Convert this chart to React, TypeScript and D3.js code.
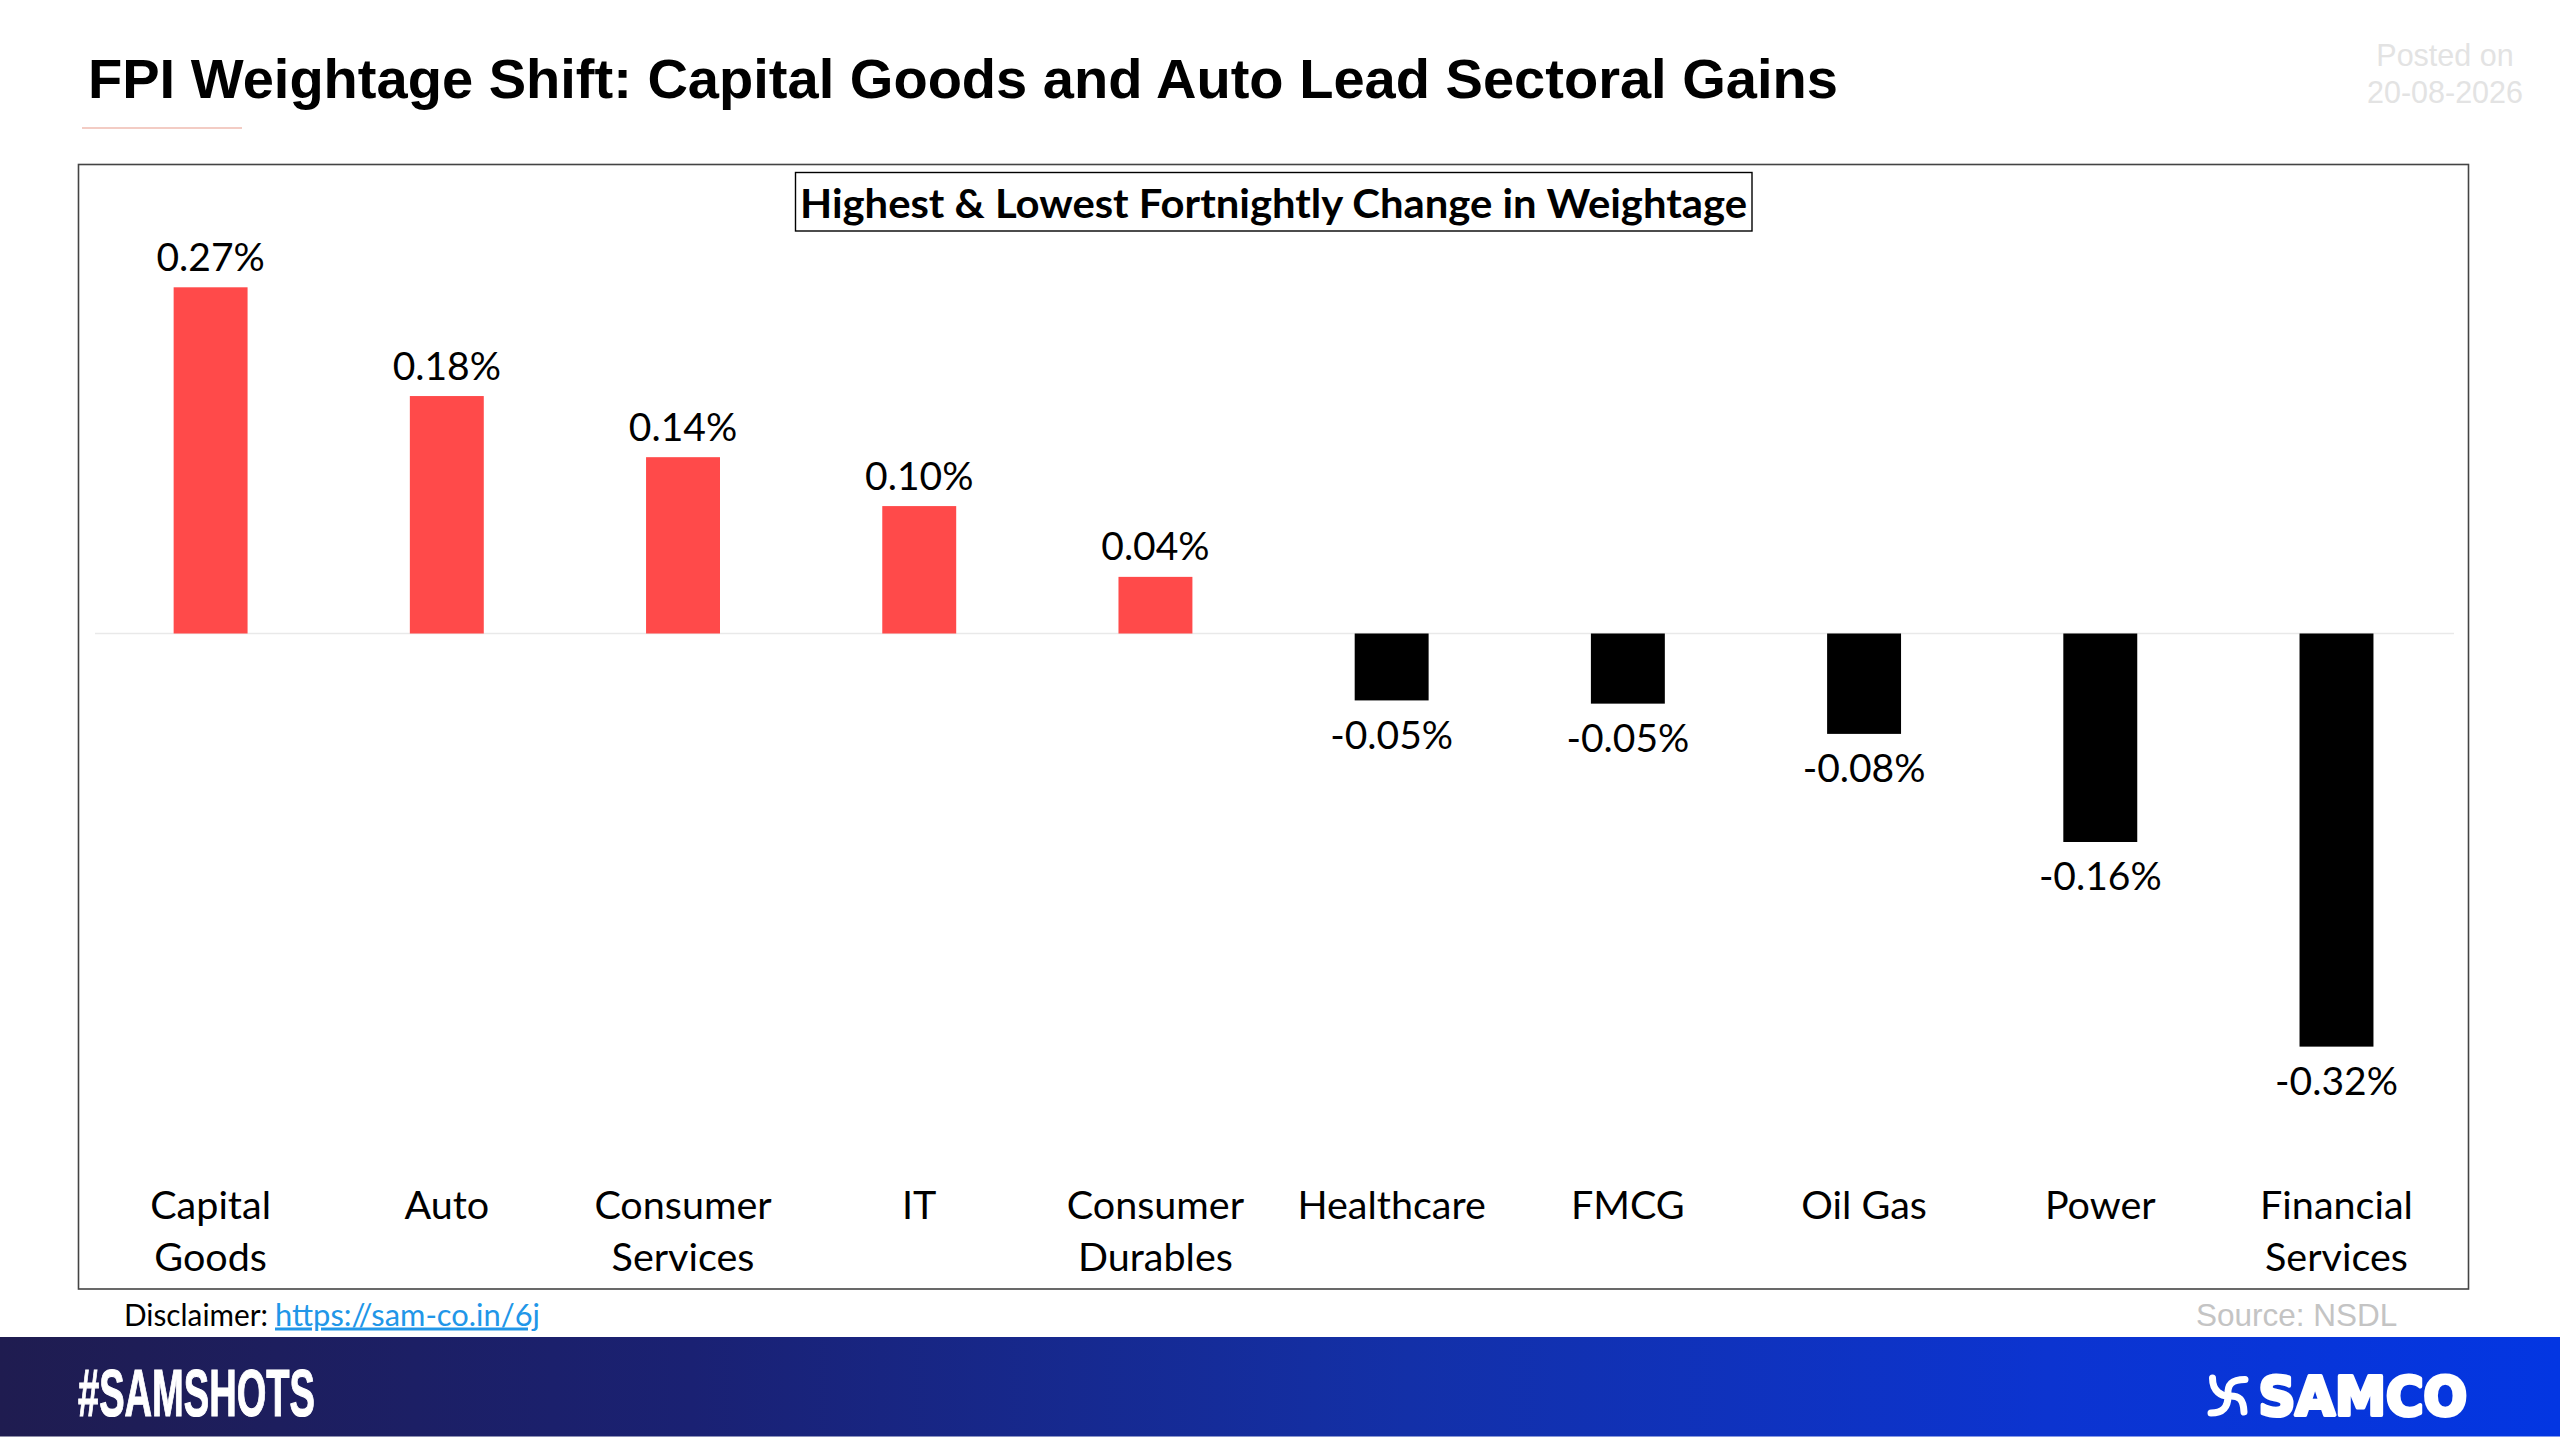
import React from "react";
import * as d3 from "d3";

const categories = [
  ["Capital", "Goods"],
  ["Auto"],
  ["Consumer", "Services"],
  ["IT"],
  ["Consumer", "Durables"],
  ["Healthcare"],
  ["FMCG"],
  ["Oil Gas"],
  ["Power"],
  ["Financial", "Services"],
];
const values = [0.269, 0.1845, 0.137, 0.099, 0.044, -0.052, -0.0545, -0.078, -0.162, -0.321];
const title = "FPI Weightage Shift: Capital Goods and Auto Lead Sectoral Gains";
const subtitle = "Highest & Lowest Fortnightly Change in Weightage";

const W = 2560;
const H = 1440;
const SANS = "'Liberation Sans', Arial, sans-serif";
const CAL = "Lato, 'Open Sans', sans-serif";

const x = d3.scaleBand<number>().domain(d3.range(values.length)).range([92.5, 2454.6]).paddingInner(0.687).paddingOuter(0.3435);
const y = d3.scaleLinear().domain([0.3, -0.4]).range([247.4, 1148.3]);
const fmt = (v: number) => d3.format(".2f")(v).replace("\u2212", "-") + "%";

export default function App() {
  const zero = y(0);
  return (
    <svg width={W} height={H} viewBox={`0 0 ${W} ${H}`} style={{ position: "absolute", left: 0, top: 0, display: "block", background: "#fff" }}>
      <defs>
        <linearGradient id="band" x1="0" x2="1" y1="0" y2="0">
          <stop offset="0" stopColor="#1f1c50" />
          <stop offset="0.27" stopColor="#1a2173" />
          <stop offset="0.55" stopColor="#1330a8" />
          <stop offset="0.8" stopColor="#0c34d0" />
          <stop offset="1" stopColor="#0336e2" />
        </linearGradient>
      </defs>
      <rect width={W} height={H} fill="#fff" />
      <text x={88} y={98} fontFamily={SANS} fontWeight={700} fontSize={56} textLength={1750} lengthAdjust="spacingAndGlyphs" fill="#000">{title}</text>
      <line x1={82} x2={242} y1={128} y2={128} stroke="#e89a8a" strokeWidth={1.2} />
      <g fontFamily={SANS} fontSize={30.5} fill="#e3e3e3" textAnchor="middle">
        <text x={2445} y={66}>Posted on</text>
        <text x={2445} y={103}>20-08-2026</text>
      </g>
      <rect x={78.5} y={164.5} width={2390} height={1124.5} fill="#fff" stroke="#444" strokeWidth={1.6} />
      <rect x={795.5} y={172.5} width={956.5} height={58.5} fill="#fff" stroke="#000" strokeWidth={1.4} />
      <text x={1273.5} y={217.5} fontFamily={CAL} fontWeight={700} fontSize={41} textLength={947} lengthAdjust="spacingAndGlyphs" textAnchor="middle" fill="#000">{subtitle}</text>
      <line x1={95} x2={2454} y1={zero} y2={zero} stroke="#e9e9e9" strokeWidth={1.4} />
      {values.map((v, i) => {
        const bx = x(i) as number;
        const cx = bx + x.bandwidth() / 2;
        return (
          <g key={i}>
            <rect x={bx} y={Math.min(y(v), zero)} width={x.bandwidth()} height={Math.abs(y(v) - zero)} fill={v >= 0 ? "#ff4a4a" : "#000"} />
            <text x={cx} y={v >= 0 ? y(v) - 16.5 : y(v) + 48.5} textAnchor="middle" fontFamily={CAL} fontSize={39} fill="#000">{fmt(v)}</text>
            {categories[i].map((line, j) => (
              <text key={j} x={cx} y={1219 + j * 52} textAnchor="middle" fontFamily={CAL} fontSize={39.5} fill="#000">{line}</text>
            ))}
          </g>
        );
      })}
      <text x={124} y={1325.5} fontFamily={CAL} fontSize={30} textLength={144} lengthAdjust="spacingAndGlyphs" fill="#000">Disclaimer:</text>
      <text x={275} y={1325.5} fontFamily={CAL} fontSize={30} textLength={265} lengthAdjust="spacingAndGlyphs" fill="#2196e8" textDecoration="underline">https://sam-co.in/6j</text>
      <text x={2196} y={1326} fontFamily={SANS} fontSize={31.5} fill="#c4c4c4">Source: NSDL</text>
      <rect x={0} y={1337} width={W} height={99.5} fill="url(#band)" />
      <text x={78} y={1416} fontFamily="'Liberation Sans Narrow', 'Liberation Sans', sans-serif" fontWeight={700} fontSize={67} textLength={237} lengthAdjust="spacingAndGlyphs" fill="#fff" stroke="#fff" strokeWidth={1.2}>#SAMSHOTS</text>
      <text x={2258.5} y={1414.5} fontFamily="'DejaVu Sans', sans-serif" fontWeight={700} fontSize={54} textLength={208.5} lengthAdjust="spacingAndGlyphs" fill="#fff" stroke="#fff" strokeWidth={4} strokeLinejoin="round">SAMCO</text>
      <g fill="none" stroke="#fff" strokeWidth={7} strokeLinecap="round">
        <path d="M2212.5 1378 C2212.5 1392 2222 1396 2228 1396" />
        <path d="M2228 1396 C2227 1384 2232 1379.5 2245 1379.5" />
        <path d="M2228 1396 C2240 1395 2243.5 1400 2244 1412" />
        <path d="M2228 1396 C2228 1408 2222 1413 2211 1413" />
      </g>
    </svg>
  );
}
